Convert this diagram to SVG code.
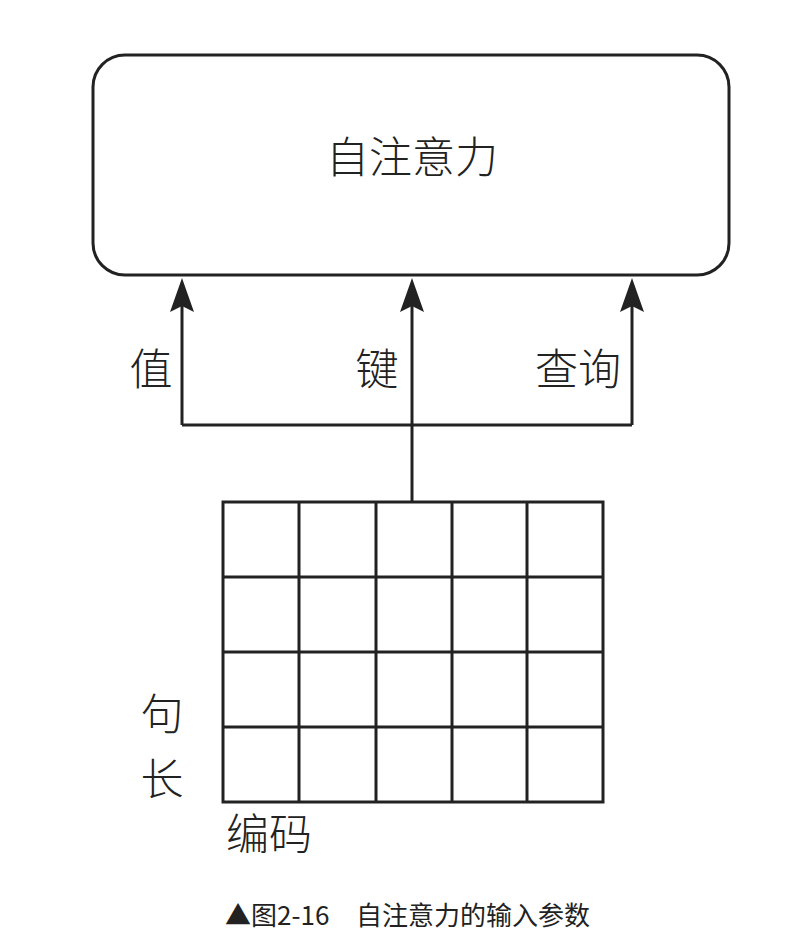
<svg xmlns="http://www.w3.org/2000/svg" width="799" height="941" viewBox="0 0 799 941">
<style>
.t{font-family:"Noto Sans CJK SC","Noto Sans",sans-serif;font-weight:300;fill:#222}
.ln{stroke:#222;stroke-width:3;fill:none}
.g{stroke:#222;stroke-width:3;fill:none}
</style>
<defs>
<marker id="ah" viewBox="0 0 34 24" markerWidth="34" markerHeight="24" refX="6" refY="12" orient="auto" markerUnits="userSpaceOnUse">
<path d="M34 12 L0 0 L6 12 L0 24 Z" fill="#222"/>
</marker>
</defs>
<rect width="799" height="941" fill="#fff"/>
<g id="self-attention">
<rect x="93" y="55" width="636" height="220" rx="32" ry="32" class="ln"/>
<text class="t" x="412" y="173" font-size="43" text-anchor="middle">自注意力</text>
</g>
<g id="connectors">
<path class="ln" d="M412 501 V425"/>
<path class="ln" d="M182 425 H632"/>
<path class="ln" d="M182 425 V306" marker-end="url(#ah)"/>
<path class="ln" d="M412 425 V306" marker-end="url(#ah)"/>
<path class="ln" d="M632 425 V306" marker-end="url(#ah)"/>
</g>
<g id="labels">
<text class="t" x="151" y="385" font-size="43" text-anchor="middle">值</text>
<text class="t" x="377" y="385" font-size="43" text-anchor="middle">键</text>
<text class="t" x="578" y="385" font-size="43" text-anchor="middle">查询</text>
</g>
<g id="matrix">
<rect x="223" y="502" width="380" height="300" class="g"/>
<path class="g" d="M299 502 V802 M376 502 V802 M452 502 V802 M527 502 V802 M223 577 H603 M223 652 H603 M223 727 H603"/>
<text class="t" x="162" y="730" font-size="43" text-anchor="middle">句</text>
<text class="t" x="162" y="795" font-size="43" text-anchor="middle">长</text>
<text class="t" x="269" y="850" font-size="43" text-anchor="middle">编码</text>
</g>
<g id="caption">
<text class="t" x="225" y="925" font-size="26" style="font-weight:400">▲图2-16<tspan x="356">自注意力的输入参数</tspan></text>
</g>
</svg>
